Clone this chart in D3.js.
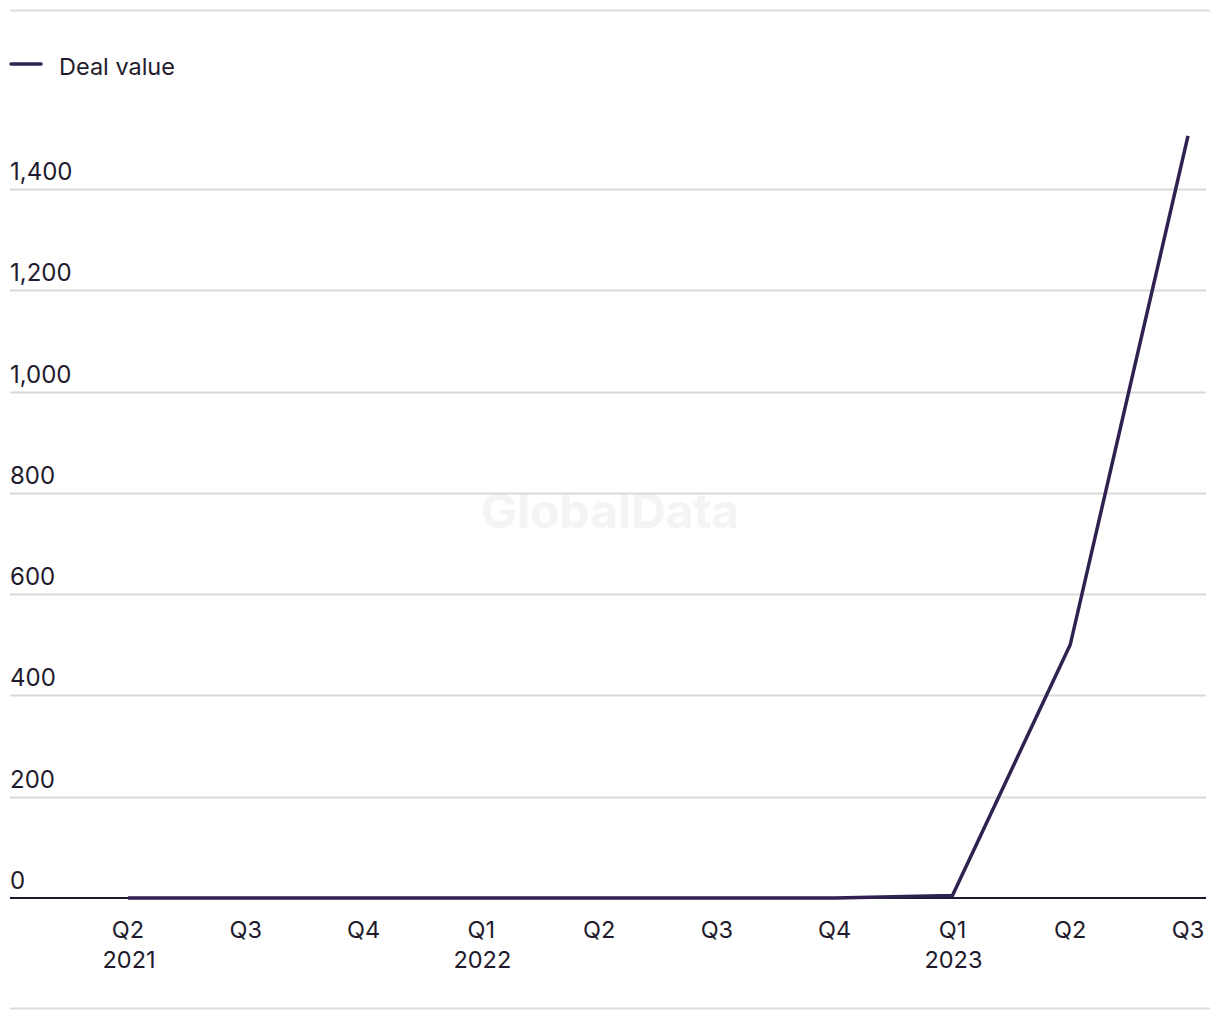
<!DOCTYPE html>
<html>
<head>
<meta charset="utf-8">
<script src="https://cdn.jsdelivr.net/npm/d3@7"></script>
<style>
  body { margin: 0; background: #fff; }
  svg { display: block; font-family: Inter, "Noto Sans", sans-serif; }
</style>
</head>
<body>
<div id="chart"></div>
<script>
// quarters along the x axis, with the year shown under the first one
const quarters = ['Q2', 'Q3', 'Q4', 'Q1', 'Q2', 'Q3', 'Q4', 'Q1', 'Q2', 'Q3']
const years = ['2021', '', '', '2022', '', '', '', '2023', '', '']
const dealValue = [0, 0, 0, 0, 0, 0, 0, 5, 500, 1505]
const yTicks = [0, 200, 400, 600, 800, 1000, 1200, 1400]

const width = 1220
const height = 1020
const lineColour = '#2f2150'
const textColour = '#1f1b2d'

let svg = d3.select('#chart').append('svg')
  .attr('width', width)
  .attr('height', height)

let x = d3.scalePoint()
  .domain(d3.range(quarters.length))
  .range([128, 1188])

let y = d3.scaleLinear()
  .domain([0, 1400])
  .range([898, 189])

// top and bottom rules
svg.append('line').attr('x1', 10).attr('x2', 1210).attr('y1', 10.5).attr('y2', 10.5)
  .attr('stroke', '#dcdcdc').attr('stroke-width', 2)
svg.append('line').attr('x1', 10).attr('x2', 1210).attr('y1', 1008.5).attr('y2', 1008.5)
  .attr('stroke', '#dcdcdc').attr('stroke-width', 2)

// watermark
svg.append('text')
  .attr('x', 610).attr('y', 528)
  .attr('text-anchor', 'middle')
  .attr('font-size', 48)
  .attr('font-weight', 700)
  .attr('fill', '#f4f4f4')
  .text('GlobalData')

// legend
svg.append('line').attr('x1', 11).attr('x2', 41).attr('y1', 64).attr('y2', 64)
  .attr('stroke', lineColour).attr('stroke-width', 3.5).attr('stroke-linecap', 'round')
svg.append('text').attr('x', 59).attr('y', 75)
  .attr('font-size', 23.5).attr('fill', textColour)
  .text('Deal value')

// grid + y labels
let grid = svg.append('g')
grid.selectAll('line')
  .data(yTicks.filter(d => d > 0))
  .enter()
  .append('line')
  .attr('x1', 10).attr('x2', 1206)
  .attr('y1', d => Math.round(y(d)) + 0.5)
  .attr('y2', d => Math.round(y(d)) + 0.5)
  .attr('stroke', '#d9d9d9')
  .attr('stroke-width', 2)

grid.selectAll('text')
  .data(yTicks)
  .enter()
  .append('text')
  .attr('x', 10)
  .attr('y', d => y(d) - 9)
  .attr('font-size', 24)
  .attr('fill', textColour)
  .text(d => d3.format(',')(d))

// baseline
svg.append('line').attr('x1', 10).attr('x2', 1206).attr('y1', y(0)).attr('y2', y(0))
  .attr('stroke', '#1c1830').attr('stroke-width', 2)

// x labels
let xLabels = svg.append('g')
xLabels.selectAll('text.q')
  .data(quarters)
  .enter()
  .append('text')
  .attr('class', 'q')
  .attr('x', (d, i) => x(i))
  .attr('y', 938)
  .attr('text-anchor', 'middle')
  .attr('font-size', 23.5)
  .attr('fill', textColour)
  .text(d => d)

xLabels.selectAll('text.yr')
  .data(years)
  .enter()
  .append('text')
  .attr('class', 'yr')
  .attr('x', (d, i) => x(i) + 1)
  .attr('y', 968)
  .attr('text-anchor', 'middle')
  .attr('font-size', 23.5)
  .attr('fill', textColour)
  .text(d => d)

// the series
let line = d3.line()
  .x((d, i) => x(i))
  .y(d => y(d))

svg.append('path')
  .datum(dealValue)
  .attr('d', line)
  .attr('fill', 'none')
  .attr('stroke', lineColour)
  .attr('stroke-width', 3.5)
</script>
</body>
</html>
